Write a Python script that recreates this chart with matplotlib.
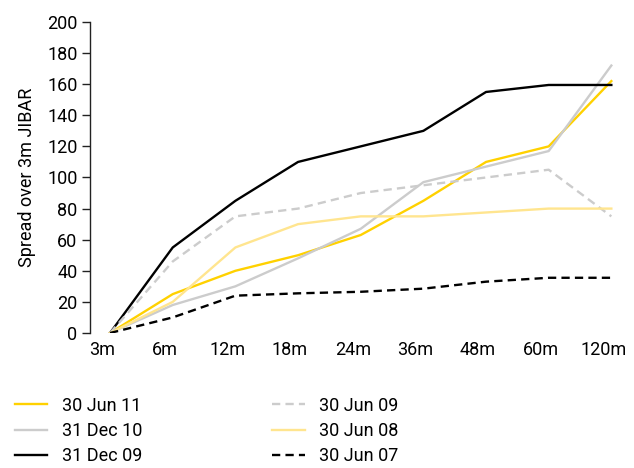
import matplotlib
matplotlib.use("Agg")
import matplotlib.pyplot as plt
import matplotlib.transforms as mtransforms

plt.rcParams['font.family'] = ['Roboto', 'DejaVu Sans']

tenors = ['3m', '6m', '12m', '18m', '24m', '36m', '48m', '60m', '120m']

jun11 = [0, 25, 40, 50, 63, 85, 110, 120, 162]
dec10 = [0, 18, 30, 48, 67, 97, 107, 117, 172]
dec09 = [0, 55, 85, 110, 120, 130, 155, 159.5, 159.5]
jun09 = [0, 46, 75, 80, 90, 95, 100, 105, 75]
jun08 = [0, 20, 55, 70, 75, 75, 77.5, 80, 80]
jun07 = [0, 10, 24, 25.5, 26.5, 28.5, 33, 35.5, 35.5]

series = [
    ('30 Jun 11', jun11, '#FFD100', '-'),
    ('31 Dec 10', dec10, '#CCCCCC', '-'),
    ('31 Dec 09', dec09, '#000000', '-'),
    ('30 Jun 09', jun09, '#CCCCCC', '--'),
    ('30 Jun 08', jun08, '#FFE58F', '-'),
    ('30 Jun 07', jun07, '#000000', '--'),
]

fig = plt.figure(figsize=(6.34, 4.68), dpi=100)
ax = fig.add_axes([0.142, 0.2885, 0.844, 0.6645])

x = list(range(len(tenors)))
for label, vals, color, ls in series:
    line, = ax.plot(x, vals, color=color, linestyle=ls, linewidth=1.7, label=label)
    if ls == '--':
        line.set_dashes((3.5, 2.2))

ax.set_xlim(-0.32, 8.22)
ax.set_ylim(0, 200)
ax.set_yticks(range(0, 201, 20))
ax.set_xticks(x)
ax.set_xticklabels(tenors)

for side in ('top', 'right', 'bottom'):
    ax.spines[side].set_visible(False)
ax.spines['left'].set_linewidth(1.0)
ax.spines['left'].set_color('#222222')

ax.tick_params(axis='y', labelsize=13, length=6, width=1.0, pad=3, color='#222222')
ax.tick_params(axis='x', labelsize=13, length=0, pad=6)

# shift category labels slightly left of their points
offset = mtransforms.ScaledTranslation(-8 / 100, 0, fig.dpi_scale_trans)
for lbl in ax.get_xticklabels():
    lbl.set_transform(lbl.get_transform() + offset)

ax.set_ylabel('Spread over 3m JIBAR', fontsize=13, labelpad=8)

fig.legend(loc='upper left', bbox_to_anchor=(0.012, 0.168), ncol=2,
           frameon=False, fontsize=13, handlelength=1.8, handletextpad=0.8,
           columnspacing=7.2, labelspacing=0.4, borderaxespad=0)

fig.savefig('out.png', dpi=100)
